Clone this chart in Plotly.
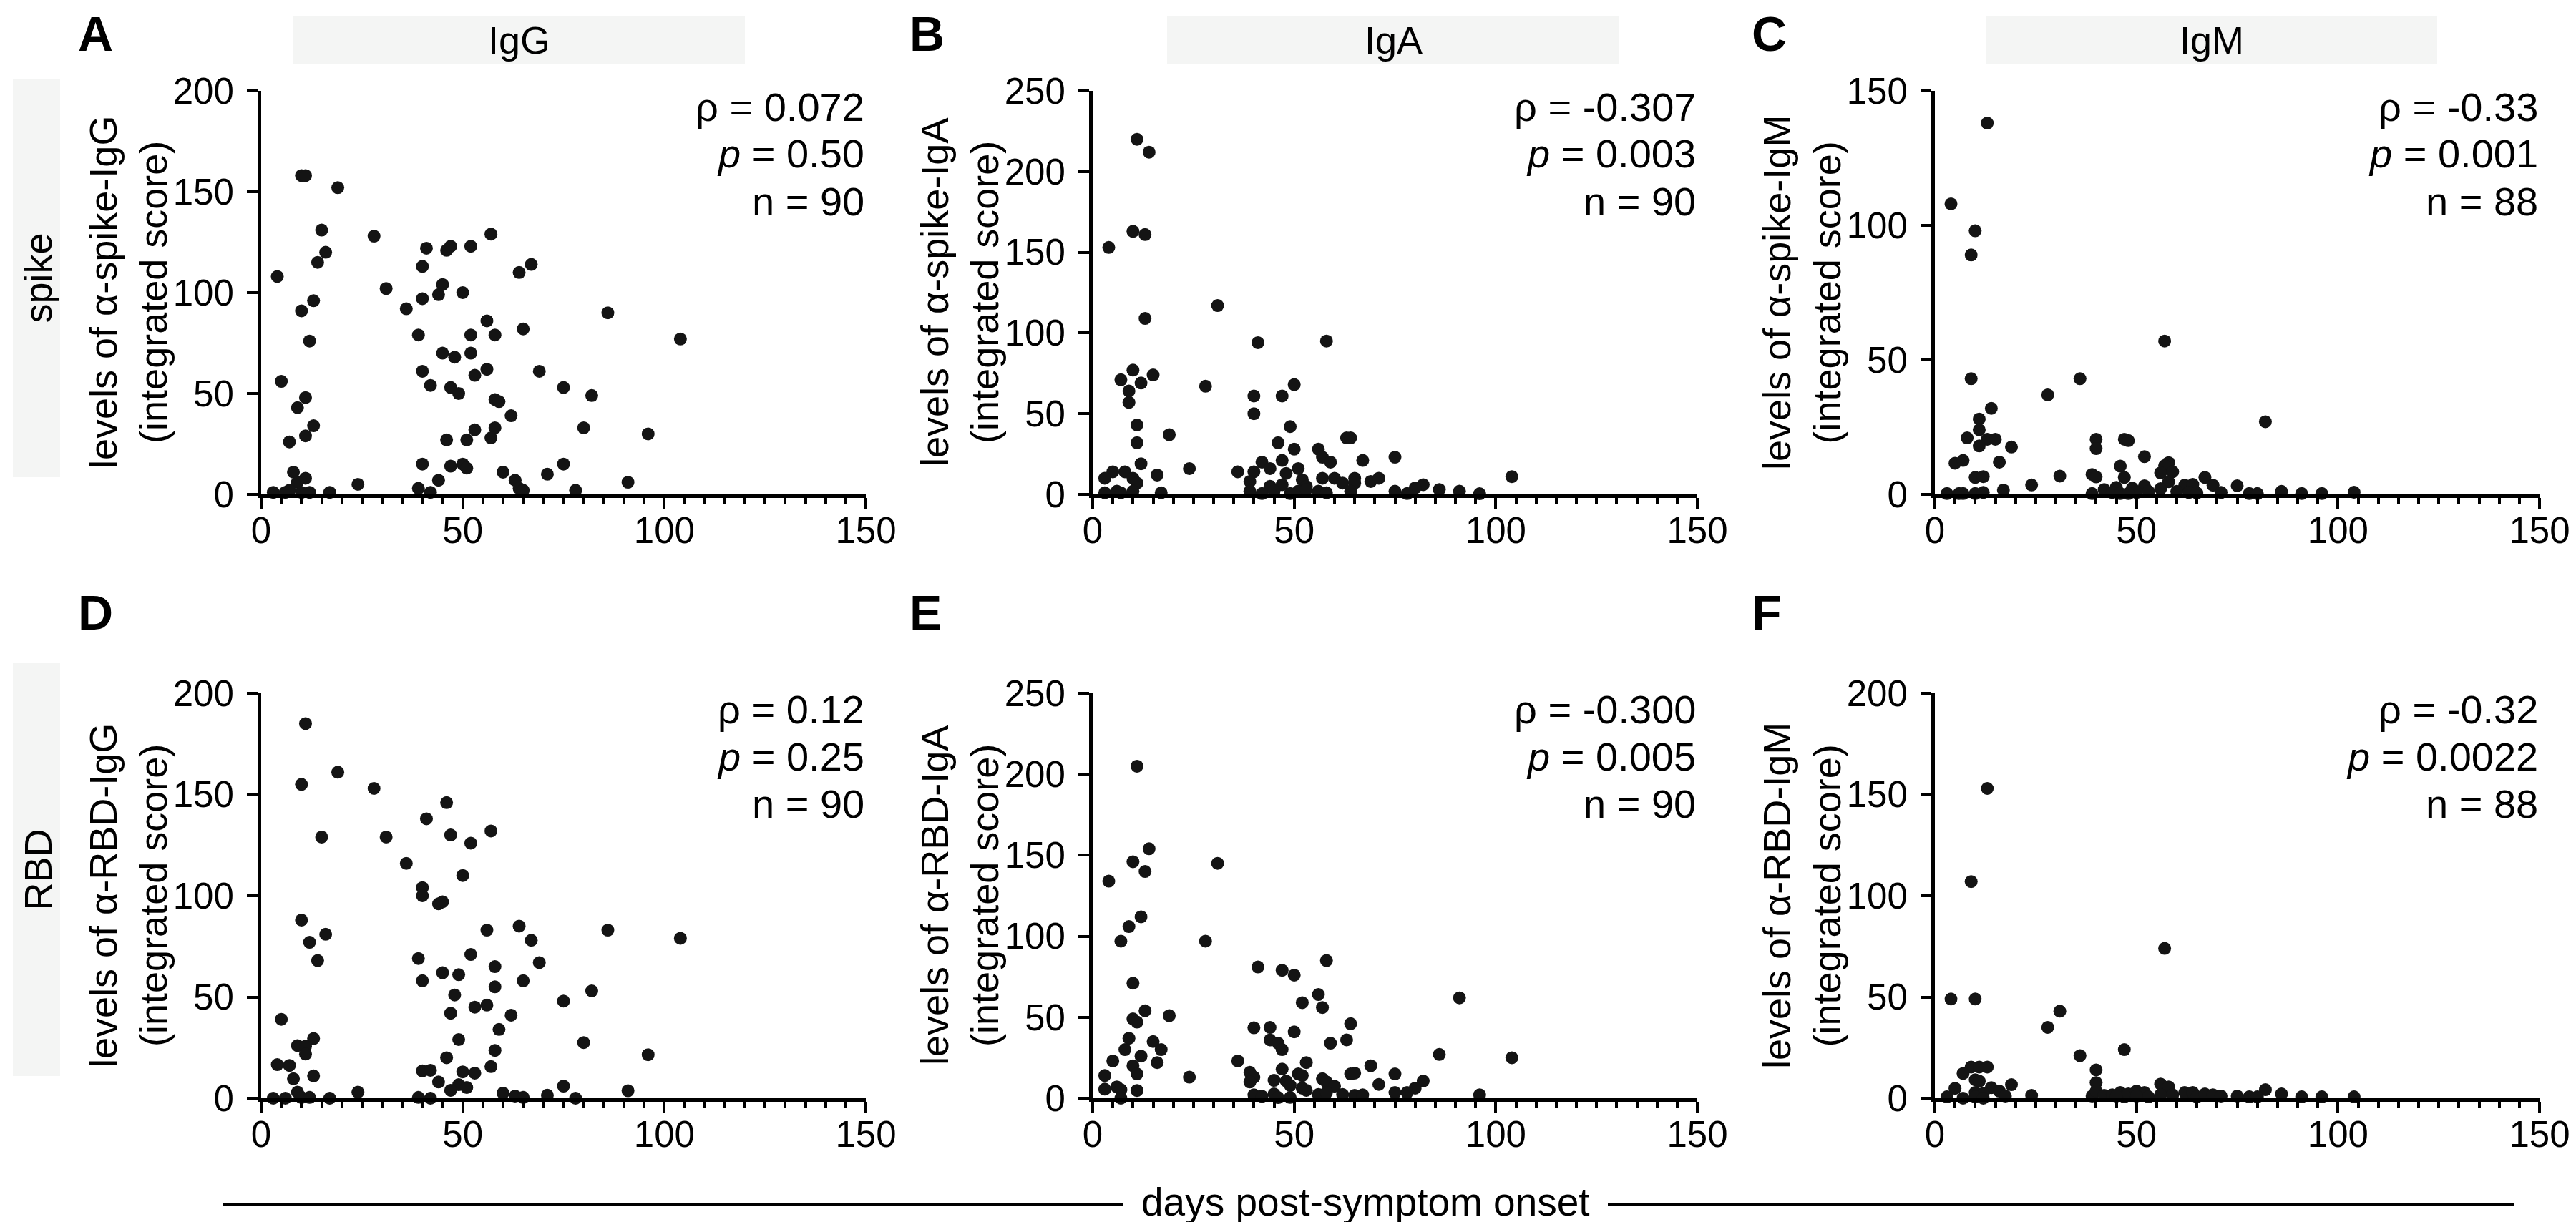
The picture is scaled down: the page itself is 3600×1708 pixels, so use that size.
import plotly.graph_objects as go

W, H = 3600, 1708

# ---------------- data ----------------
# Panel A: spike IgG
a_days = [10, 11, 19, 15, 28, 16, 14, 4, 41, 46, 47, 52, 57, 40, 64, 67, 31, 45, 44, 50,
          40, 36, 13, 10, 86, 56, 65, 39, 52, 58, 104, 12, 45, 48, 52, 40, 56, 53, 69, 5,
          42, 47, 49, 75, 82, 11, 9, 58, 59, 62, 13, 11, 7, 53, 58, 57, 46, 51, 80, 96,
          40, 47, 50, 51, 75, 8, 11, 9, 60, 71, 44, 63, 24, 91, 39, 64, 65, 3, 6, 7,
          10, 12, 17, 42, 78]
a_vals = [158, 158, 152, 131, 128, 120, 115, 108, 122, 121, 123, 123, 129, 113, 110, 114, 102, 104, 99, 100,
          97, 92, 96, 91, 90, 86, 82, 79, 79, 79, 77, 76, 70, 68, 70, 61, 62, 59, 61, 56,
          54, 53, 50, 53, 49, 48, 43, 47, 46, 39, 34, 29, 26, 32, 33, 28, 27, 27, 33, 30,
          15, 14, 15, 13, 15, 11, 8, 6, 11, 10, 7, 7, 5, 6, 3, 3, 2, 1, 1, 2,
          1, 1, 1, 1, 2]

# Panel B: spike IgA
b_days = [11, 14, 10, 13, 4, 31, 13, 41, 58, 10, 7, 15, 12, 9, 9, 28, 40, 47, 50, 40,
          11, 11, 19, 49, 46, 50, 63, 64, 56, 57, 59, 67, 75, 12, 42, 47, 44, 51, 48, 24,
          36, 40, 5, 8, 3, 10, 11, 16, 39, 52, 57, 60, 62, 65, 65, 69, 71, 82, 80, 104,
          44, 47, 53, 3, 6, 7, 10, 17, 39, 42, 45, 49, 51, 53, 56, 58, 64, 75, 78, 86,
          91, 96]
b_vals = [220, 212, 163, 161, 153, 117, 109, 94, 95, 77, 71, 74, 69, 64, 57, 67, 61, 61, 68, 50,
          43, 32, 37, 42, 32, 28, 35, 35, 28, 23, 20, 21, 23, 19, 20, 21, 16, 16, 13, 16,
          14, 14, 14, 14, 10, 10, 7, 12, 8, 9, 10, 10, 7, 10, 7, 8, 10, 6, 4, 11,
          5, 6, 5, 1, 2, 1, 2, 1, 2, 0.5, 2, 0.5, 2, 3, 2, 1, 2, 2, 0.5, 3,
          2, 0.4]

# Panel C: spike IgM
c_days = [13, 4, 10, 9, 9, 36, 28, 57, 82, 14, 11, 11, 8, 13, 15, 11, 19, 40, 40, 47,
          48, 52, 5, 7, 16, 46, 58, 57, 56, 59, 10, 12, 31, 39, 40, 47, 67, 24, 17, 58,
          62, 64, 69, 75, 52, 3, 6, 7, 10, 12, 39, 42, 45, 44, 49, 50, 53, 56, 60, 63,
          65, 71, 78, 80, 86, 91, 96, 104, 46, 48]
c_vals = [138, 108, 98, 89, 43, 43, 37, 57, 27, 32, 28, 24, 21, 20.5, 20.5, 18, 17.6, 20.5, 17, 20.5,
          20, 14, 11.6, 12.6, 12, 10.5, 11.8, 10.7, 8, 8.4, 6.3, 6.6, 6.8, 7.4, 6.5, 6.3, 6.3, 3.5, 1.6, 4.7,
          3.4, 3.7, 3.4, 3.2, 3.2, 0.3, 0.3, 0.3, 0.3, 0.7, 0.3, 1.8, 2.6, 0.7, 2.3, 0.7, 1.1, 2.1, 1.1, 0.7,
          0.5, 0.7, 0.3, 0.3, 1.1, 0.3, 0.3, 0.8, 0.3, 0.3]

# Panel D: RBD IgG
d_days = [11, 19, 10, 28, 46, 41, 57, 47, 52, 15, 31, 36, 50, 40, 40, 44, 45, 10, 16, 12,
          14, 64, 56, 86, 104, 67, 52, 39, 69, 58, 45, 49, 40, 65, 58, 48, 82, 75, 56, 53,
          47, 62, 5, 59, 13, 9, 11, 11, 49, 80, 58, 96, 46, 4, 7, 40, 42, 50, 53, 57,
          13, 8, 44, 49, 51, 47, 75, 91, 24, 9, 60, 63, 65, 71, 3, 6, 10, 12, 17, 39,
          42, 78]
d_vals = [185, 161, 155, 153, 146, 138, 132, 130, 126, 129, 129, 116, 110, 104, 100, 96, 97, 88, 81, 77,
          68, 85, 83, 83, 79, 78, 71, 69, 67, 65, 62, 61, 58, 58, 55, 51, 53, 48, 46, 45,
          42, 41, 39, 34, 29.5, 26, 25.7, 21.8, 29, 27.5, 23.6, 21.5, 20, 16.6, 16.2, 13.5, 13.8, 13, 12.4, 15.6,
          11, 9.6, 8, 6.7, 5.3, 3.9, 6, 3.7, 3, 3, 2.5, 1.1, 0.4, 1.5, 0, 0, 0.4, 0.4, 0, 0.4,
          0, 0]

# Panel E: RBD IgA
e_days = [11, 14, 10, 13, 31, 4, 12, 9, 7, 28, 58, 41, 47, 50, 91, 10, 56, 52, 57, 13,
          19, 10, 11, 64, 40, 44, 50, 9, 15, 44, 46, 47, 63, 59, 8, 17, 12, 5, 16, 86,
          104, 36, 53, 10, 11, 47, 69, 39, 40, 39, 45, 48, 51, 52, 64, 65, 75, 57, 58, 60,
          71, 82, 80, 78, 3, 3, 6, 7, 11, 7, 24, 52, 53, 49, 40, 42, 45, 46, 49, 56,
          58, 62, 65, 67, 75, 96]
e_vals = [205, 154, 146, 140, 145, 134, 112, 106, 97, 97, 85, 81, 79, 76, 62, 71, 64, 59, 56, 54,
          51, 49, 47, 46, 43.5, 43.7, 41, 37, 35, 36, 34, 30, 36, 34, 30, 30, 26, 23, 22, 27,
          25, 23, 22, 20, 15, 18, 20, 16, 13, 10, 11, 10.6, 15, 14, 15, 15.5, 15, 12, 10, 7.4,
          8.5, 10.6, 6.2, 3.5, 14, 5.6, 7, 5.3, 4.8, 0, 13, 6.2, 4.9, 7.9, 2.1, 1.2, 2.6, 0.4, 0.5, 2.3,
          3.5, 2.3, 1.8, 2.1, 3.5, 2.1]

# Panel F: RBD IgM
f_days = [13, 9, 4, 10, 57, 31, 28, 36, 47, 40, 9, 11, 13, 7, 10, 11, 40, 56, 19, 82,
          5, 14, 58, 16, 10, 12, 17.5, 3, 7, 10, 12, 24, 39, 40, 42, 44, 46, 47, 48, 50,
          52, 53, 56, 59, 62, 64, 65, 67, 69, 71, 75, 78, 80, 86, 91, 96, 104, 50, 45]
f_vals = [153, 107, 49, 49, 74, 43, 35, 21, 24, 14, 15.4, 15.4, 15.4, 12.2, 9.1, 8.4, 7.7, 7, 6.7, 4.2,
          4.9, 5.2, 5.6, 3.5, 2.8, 2.4, 1.1, 0.7, 0, 0.7, 0, 1.4, 1.1, 3.5, 1.4, 1.7, 2.8, 0.7, 2.1, 3.5,
          2.8, 0.7, 1.7, 1.7, 2.8, 2.8, 0.7, 2.1, 1.7, 1.1, 1.1, 0.7, 0.7, 2.1, 0.7, 0.7, 0.7, 1.1, 1.1]

panel_letters = ["A", "B", "C", "D", "E", "F"]
antibodies = ["IgG", "IgA", "IgM"]
antigens = ["spike", "RBD"]
y_labels = ["levels of α-spike-IgG", "levels of α-spike-IgA", "levels of α-spike-IgM",
            "levels of α-RBD-IgG", "levels of α-RBD-IgA", "levels of α-RBD-IgM"]
y_max = [200, 250, 150, 200, 250, 200]
rho_text = ["0.072", "-0.307", "-0.33", "0.12", "-0.300", "-0.32"]
p_text = ["0.50", "0.003", "0.001", "0.25", "0.005", "0.0022"]
n_text = ["90", "90", "88", "90", "90", "88"]
x_label = "days post-symptom onset"

# ---------------- layout geometry (pixels) ----------------
FONT = "Liberation Sans, Arial, Helvetica, sans-serif"
col_x = [(357, 1202), (1519, 2364), (2696, 3541)]
row_y = [(119, 683), (961, 1527)]
strip_x = [(402, 1033), (1623, 2255), (2767, 3398)]


def px(x):
    return x / W


def py(y):
    return 1 - y / H


series = [(a_days, a_vals), (b_days, b_vals), (c_days, c_vals),
          (d_days, d_vals), (e_days, e_vals), (f_days, f_vals)]

fig = go.Figure()
layout = dict(width=W, height=H, autosize=False, margin=dict(l=0, r=0, t=0, b=0, pad=0),
              paper_bgcolor="white", plot_bgcolor="white", showlegend=False,
              font=dict(family=FONT, color="black"))
annotations = []
shapes = []

for i in range(6):
    r, c = divmod(i, 3)
    k = "" if i == 0 else str(i + 1)
    x0, x1 = col_x[c]
    y0, y1 = row_y[r]
    days, vals = series[i]
    fig.add_trace(go.Scatter(x=days, y=vals, mode="markers", xaxis="x" + k, yaxis="y" + k,
                             cliponaxis=False,
                             marker=dict(size=18, color="#141414", line=dict(width=0))))
    layout["xaxis" + k] = dict(
        domain=[px(x0), px(x1)], anchor="y" + k, range=[0, 150], tickmode="linear", tick0=0, dtick=50,
        showline=True, linecolor="black", linewidth=5, ticks="outside", ticklen=16, tickwidth=4,
        tickcolor="black", showgrid=False, zeroline=False, tickfont=dict(size=51, family=FONT),
        automargin=False, ticklabelstandoff=-14,
        minor=dict(ticks="outside", ticklen=9, tickwidth=4, tickcolor="black", dtick=5, tick0=0, showgrid=False),
        fixedrange=True)
    layout["yaxis" + k] = dict(
        domain=[py(y1), py(y0)], anchor="x" + k, range=[0, y_max[i]], tickmode="linear", tick0=0, dtick=50,
        showline=True, linecolor="black", linewidth=5, ticks="outside", ticklen=15, tickwidth=4,
        tickcolor="black", showgrid=False, zeroline=False, tickfont=dict(size=51, family=FONT),
        automargin=False, ticklabelstandoff=8, fixedrange=True)

    # panel letter
    annotations.append(dict(x=px(x0 - 258), y=py(39 if r == 0 else 848), xref="paper", yref="paper",
                            text="<b>%s</b>" % panel_letters[i], showarrow=False, xanchor="left",
                            yanchor="middle", font=dict(size=68, family=FONT, color="black")))
    # y-axis title
    annotations.append(dict(x=px(x0 - 186), y=py((y0 + y1) / 2), xref="paper", yref="paper",
                            text=y_labels[i] + "<br>(integrated score)", textangle=-90, showarrow=False,
                            xanchor="center", yanchor="middle",
                            font=dict(size=54, family=FONT, color="black")))
    # statistics
    stats = ["ρ = " + rho_text[i], "<i>p</i> = " + p_text[i], "n = " + n_text[i]]
    for j, t in enumerate(stats):
        annotations.append(dict(x=px(x1), y=py(y0 + 22 + 66 * j), xref="paper", yref="paper", text=t,
                                showarrow=False, xanchor="right", yanchor="middle",
                                font=dict(size=56, family=FONT, color="black")))

# column strips
for c in range(3):
    sx0, sx1 = strip_x[c]
    shapes.append(dict(type="rect", xref="paper", yref="paper", x0=px(sx0), x1=px(sx1), y0=py(82), y1=py(15),
                       fillcolor="#f4f5f4", line=dict(width=0), layer="below"))
    annotations.append(dict(x=px((sx0 + sx1) / 2), y=py(48), xref="paper", yref="paper", text=antibodies[c],
                            showarrow=False, xanchor="center", yanchor="middle",
                            font=dict(size=54, family=FONT, color="black")))

# row strips
row_strip = [(102, 659), (919, 1496)]
for r in range(2):
    sy0, sy1 = row_strip[r]
    shapes.append(dict(type="rect", xref="paper", yref="paper", x0=px(10), x1=px(76), y0=py(sy1), y1=py(sy0),
                       fillcolor="#f4f5f4", line=dict(width=0), layer="below"))
    annotations.append(dict(x=px(44), y=py((sy0 + sy1) / 2), xref="paper", yref="paper", text=antigens[r],
                            textangle=-90, showarrow=False, xanchor="center", yanchor="middle",
                            font=dict(size=54, family=FONT, color="black")))

# common x label with lines
shapes.append(dict(type="line", xref="paper", yref="paper", x0=px(303), x1=px(1561), y0=py(1676), y1=py(1676),
                   line=dict(color="black", width=4)))
shapes.append(dict(type="line", xref="paper", yref="paper", x0=px(2239), x1=px(3506), y0=py(1676), y1=py(1676),
                   line=dict(color="black", width=4)))
annotations.append(dict(x=px(1900), y=py(1672), xref="paper", yref="paper", text=x_label, showarrow=False,
                        xanchor="center", yanchor="middle", borderpad=0,
                        font=dict(size=55, family=FONT, color="black")))

layout["annotations"] = annotations
layout["shapes"] = shapes
fig.update_layout(**layout)
fig.write_html("out.html")
